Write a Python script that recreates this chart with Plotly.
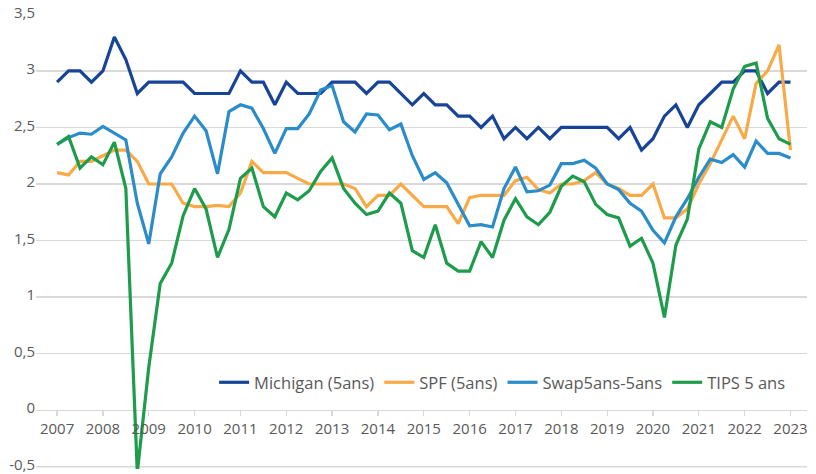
import plotly.graph_objects as go

# Quarterly observations 2007Q1 .. 2023Q1
years = list(range(2007, 2024))
quarters = [2007 + i / 4 for i in range(65)]

michigan = [2.9, 3.0, 3.0, 2.9, 3.0, 3.3, 3.1, 2.8, 2.9, 2.9, 2.9, 2.9, 2.8, 2.8, 2.8, 2.8,
            3.0, 2.9, 2.9, 2.7, 2.9, 2.8, 2.8, 2.8, 2.9, 2.9, 2.9, 2.8, 2.9, 2.9, 2.8, 2.7,
            2.8, 2.7, 2.7, 2.6, 2.6, 2.5, 2.6, 2.4, 2.5, 2.4, 2.5, 2.4, 2.5, 2.5, 2.5, 2.5,
            2.5, 2.4, 2.5, 2.3, 2.4, 2.6, 2.7, 2.5, 2.7, 2.8, 2.9, 2.9, 3.0, 3.0, 2.8, 2.9,
            2.9]

spf = [2.1, 2.08, 2.2, 2.2, 2.25, 2.3, 2.3, 2.2, 2.0, 2.0, 2.0, 1.83, 1.8, 1.8, 1.81, 1.8,
       1.92, 2.2, 2.1, 2.1, 2.1, 2.05, 2.0, 2.0, 2.0, 2.0, 1.96, 1.8, 1.9, 1.9, 2.0, 1.9,
       1.8, 1.8, 1.8, 1.65, 1.88, 1.9, 1.9, 1.9, 2.03, 2.06, 1.95, 1.92, 2.0, 2.0, 2.03, 2.1,
       2.0, 1.96, 1.9, 1.9, 2.0, 1.7, 1.7, 1.78, 2.0, 2.18, 2.39, 2.6, 2.4, 2.89, 3.0, 3.23,
       2.3]

swap = [2.35, 2.41, 2.45, 2.44, 2.51, 2.45, 2.39, 1.83, 1.47, 2.09, 2.24, 2.45, 2.6, 2.47, 2.09, 2.64,
        2.7, 2.67, 2.49, 2.27, 2.49, 2.49, 2.62, 2.83, 2.87, 2.55, 2.46, 2.62, 2.61, 2.48, 2.53, 2.25,
        2.04, 2.1, 2.01, 1.82, 1.63, 1.64, 1.62, 1.96, 2.15, 1.93, 1.94, 1.99, 2.18, 2.18, 2.21, 2.14,
        2.0, 1.95, 1.83, 1.76, 1.59, 1.48, 1.71, 1.87, 2.06, 2.22, 2.19, 2.26, 2.15, 2.38, 2.27, 2.27,
        2.23]

tips = [2.35, 2.42, 2.14, 2.24, 2.17, 2.37, 1.96, -0.55, 0.38, 1.12, 1.3, 1.72, 1.96, 1.78, 1.35, 1.6,
        2.05, 2.14, 1.8, 1.71, 1.92, 1.86, 1.94, 2.11, 2.23, 1.96, 1.83, 1.73, 1.76, 1.92, 1.83, 1.41,
        1.35, 1.64, 1.3, 1.23, 1.23, 1.49, 1.35, 1.68, 1.87, 1.71, 1.64, 1.75, 1.98, 2.07, 2.02, 1.82,
        1.73, 1.7, 1.45, 1.52, 1.3, 0.82, 1.46, 1.69, 2.31, 2.55, 2.5, 2.84, 3.04, 3.07, 2.58, 2.4,
        2.35]

series_names = ["Michigan (5ans)", "SPF (5ans)", "Swap5ans-5ans", "TIPS 5 ans"]
series_colors = ["#174497", "#F9AA48", "#2A8CC8", "#1E9C4C"]

y_tickvals = [-0.5, 0, 0.5, 1, 1.5, 2, 2.5, 3, 3.5]
y_ticktext = ["-0,5", "0", "0,5", "1", "1,5", "2", "2,5", "3", "3,5"]

fig = go.Figure()
for name, vals, col in zip(series_names, [michigan, spf, swap, tips], series_colors):
    fig.add_trace(go.Scatter(x=quarters, y=vals, mode="lines", name=name,
                             line=dict(color=col, width=3.2), hoverinfo="skip"))

y_lo, y_hi = -0.52, 3.503
x0_axis = (0 - y_lo) / (y_hi - y_lo)

# bottom gridline (the axis minimum tick), drawn under the data
fig.add_shape(type="line", xref="paper", yref="y", x0=0, x1=1, y0=y_tickvals[0], y1=y_tickvals[0],
              line=dict(color="#D9D9D9", width=1.3), layer="below")

font_family = "Open Sans, Noto Sans, sans-serif"
fig.update_layout(
    width=816, height=474,
    margin=dict(l=36, r=9, t=14, b=5, autoexpand=False),
    paper_bgcolor="white", plot_bgcolor="white",
    font=dict(family=font_family, size=15, color="#595959"),
    showlegend=True,
    legend=dict(orientation="h", x=0.231, y=0.19, xanchor="left", yanchor="middle",
                font=dict(size=16.5, color="#595959"), bgcolor="rgba(0,0,0,0)",
                itemwidth=30, tracegroupgap=0),
    xaxis=dict(range=[2006.54, 2023.36], tickvals=years, ticktext=[str(y) for y in years],
               showgrid=False, zeroline=False, showline=False,
               ticks="outside", ticklen=5, tickcolor="#D9D9D9", tickwidth=1.3,
               anchor="free", position=x0_axis, tickfont=dict(size=15, color="#595959"),
               ticklabeloverflow="allow", automargin=False),
    yaxis=dict(range=[y_lo, y_hi], tickvals=y_tickvals, ticktext=y_ticktext,
               showgrid=True, gridcolor="#D9D9D9", gridwidth=1.3, zeroline=False,
               showline=False, ticks="", tickfont=dict(size=15, color="#595959"),
               ticklabeloverflow="allow", automargin=False, ticklabelshift=-2),
)

# remove the default 8px page margin so the figure sits at the window origin
fig.write_html("out.html", config={"displayModeBar": False, "staticPlot": True},
               post_script="document.body.style.margin='0';")
